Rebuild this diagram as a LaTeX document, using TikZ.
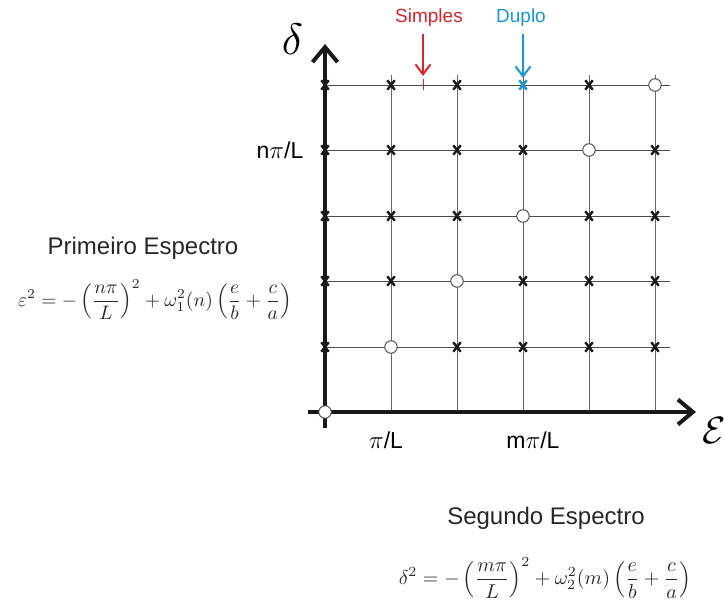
\documentclass[tikz,border=0pt]{standalone}
\usepackage{graphicx}
\usepackage[no-math]{fontspec}
\setmainfont{Liberation Sans}
\usetikzlibrary{arrows.meta,shapes.misc}
\definecolor{simpred}{RGB}{214,38,45}
\definecolor{duploblue}{RGB}{25,150,215}
\definecolor{gridgray}{RGB}{100,100,100}
\definecolor{mathgray}{RGB}{40,40,40}
\tikzset{
  gridline/.style={draw=gridgray, line width=0.9pt},
  axisline/.style={draw=black!90, line width=3.4pt, -{Straight Barb[length=15pt,width=25pt,line width=4pt]}},
  xmk/.style={cross out, draw=black!90, line width=2.4pt, minimum width=7.5pt, minimum height=9.5pt, inner sep=0pt, outer sep=0pt},
  omk/.style={circle, draw=gridgray!80!black, line width=1pt, fill=white, minimum size=12.5pt, inner sep=0pt},
  sanslbl/.style={inner sep=0pt, font=\fontsize{23}{26}\selectfont},
  titlelbl/.style={inner sep=0pt, text=black!85, font=\fontsize{24}{28}\selectfont},
  formula/.style={inner sep=0pt, text=mathgray, font=\fontsize{10}{12}\selectfont},
  pointer/.style={line width=1.8pt, -{Straight Barb[length=10pt,width=15pt,line width=2pt]}}
}
\begin{document}
\begin{tikzpicture}[x=1pt,y=-1pt]
\useasboundingbox (0,0) rectangle (725,604);
% grid coordinates
\foreach \xx [count=\i from 0] in {325,391,457,523,589,655} {
  \foreach \yy [count=\j from 0] in {412,347,281,216,150,85} {
    \coordinate (p\i\j) at (\xx,\yy);
  }
}
% grid lines
\foreach \i in {1,...,5} {
  \draw[gridline] (p\i0) -- ([yshift=10pt]p\i5);
}
\foreach \j in {1,...,5} {
  \draw[gridline, draw=black!70] (p0\j) -- ([xshift=15pt]p5\j);
}
% axes
\coordinate (ybot) at (325,428);
\coordinate (ytop) at (325,44);
\coordinate (xleft) at (308,412);
\coordinate (xright) at (696,412);
\draw[axisline] (ybot) -- (ytop);
\draw[axisline] (xleft) -- (xright);
% crosses
\foreach \i in {0,...,5} {
  \foreach \j in {1,...,5} {
    \ifnum\i=\j\relax\else
      \ifnum\i\j=35\relax\else
        \node[xmk] at (p\i\j) {};
      \fi
    \fi
  }
}
\node[xmk, draw=duploblue] (dup) at (p35) {};
% circles
\foreach \k in {0,...,5} {
  \node[omk] at (p\k\k) {};
}
% simple marker
\coordinate (simp) at (423,85);
\draw[simpred, line width=1pt] ([yshift=5.5pt]simp) -- ([yshift=-5.5pt]simp);
% pointers
\node[inner sep=0pt, text=simpred, font=\fontsize{19}{22}\selectfont] (simptxt) at (429,18) {Simples};
\node[inner sep=0pt, text=duploblue, font=\fontsize{19}{22}\selectfont] (duptxt) at (521,18) {Duplo};
\coordinate (sa) at (423,34);
\coordinate (sb) at (423,76);
\coordinate (da) at (523,34);
\coordinate (db) at (523,78);
\draw[pointer, simpred] (sa) -- (sb);
\draw[pointer, duploblue] (da) -- (db);
% axis labels
\node[inner sep=0pt, font=\fontsize{10}{12}\selectfont] (dl) at (292.5,39) {\scalebox{4.4}{$\delta$}};
\node[inner sep=0pt, font=\fontsize{10}{12}\selectfont] (el) at (714,431) {\scalebox{3.8}{$\mathcal{E}$}};
\node[sanslbl] (npl) at (280,150) {n$\pi$/L};
\node[sanslbl] (pl) at (386,440) {$\pi$/L};
\node[sanslbl] (mpl) at (533,440) {m$\pi$/L};
% spectra
\node[titlelbl] (t1) at (143,248) {Primeiro Espectro};
\node[formula] (f1) at (155,300) {\scalebox{1.95}{$\displaystyle \varepsilon^2 = -\left(\frac{n\pi}{L}\right)^2 + \omega_1^2(n)\left(\frac{e}{b}+\frac{c}{a}\right)$}};
\node[titlelbl] (t2) at (546,518) {Segundo Espectro};
\node[formula] (f2) at (545,578) {\scalebox{2.0}{$\displaystyle \delta^2 = -\left(\frac{m\pi}{L}\right)^2 + \omega_2^2(m)\left(\frac{e}{b}+\frac{c}{a}\right)$}};
\end{tikzpicture}
\end{document}
